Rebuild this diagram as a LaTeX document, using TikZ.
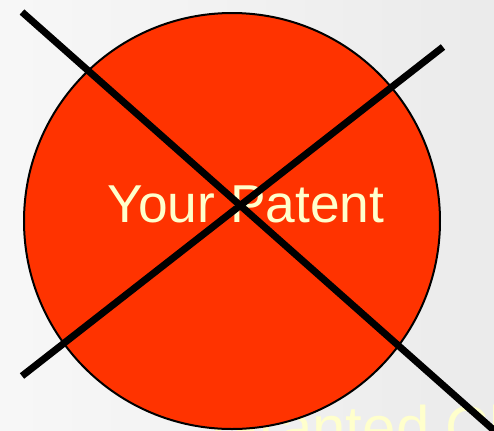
\documentclass[tikz,border=0pt]{standalone}
\usepackage{fontspec}
\setmainfont{Liberation Sans}
\usetikzlibrary{positioning}

\definecolor{patentred}{HTML}{FF3300}
\definecolor{paleyellow}{HTML}{FFFFCC}

\begin{document}
\begin{tikzpicture}[
  x=0.75pt,y=-0.75pt,
  disc/.style={draw,circle,fill=patentred,line width=1.5pt,minimum size=312pt,inner sep=0pt},
  cross/.style={line width=5.25pt},
  caption/.style={text=paleyellow,inner sep=0pt,anchor=base}
]
  \useasboundingbox (0,0) rectangle (494,430);
  \clip (0,0) rectangle (494,430);
  \shade[left color=black!3,right color=black!8] (0,0) rectangle (494,430);

  % text running off the page, behind the disc
  \begin{scope}
    \clip (200,395) rectangle (494,430);
    \node[caption,font=\fontsize{45}{54}\selectfont] (claims) at (421,448) {Granted Claims};
  \end{scope}
  \node[disc] (patent) at (232,221) {};
  \node[caption,font=\fontsize{40}{48}\selectfont] (label) at (246,222) {Your Patent};

  \coordinate (a1) at (22,12);
  \coordinate (a2) at (497,433);
  \coordinate (b1) at (22,376);
  \coordinate (b2) at (443,47);
  \draw[cross] (a1) -- (a2);
  \draw[cross] (b1) -- (b2);
\end{tikzpicture}
\end{document}
